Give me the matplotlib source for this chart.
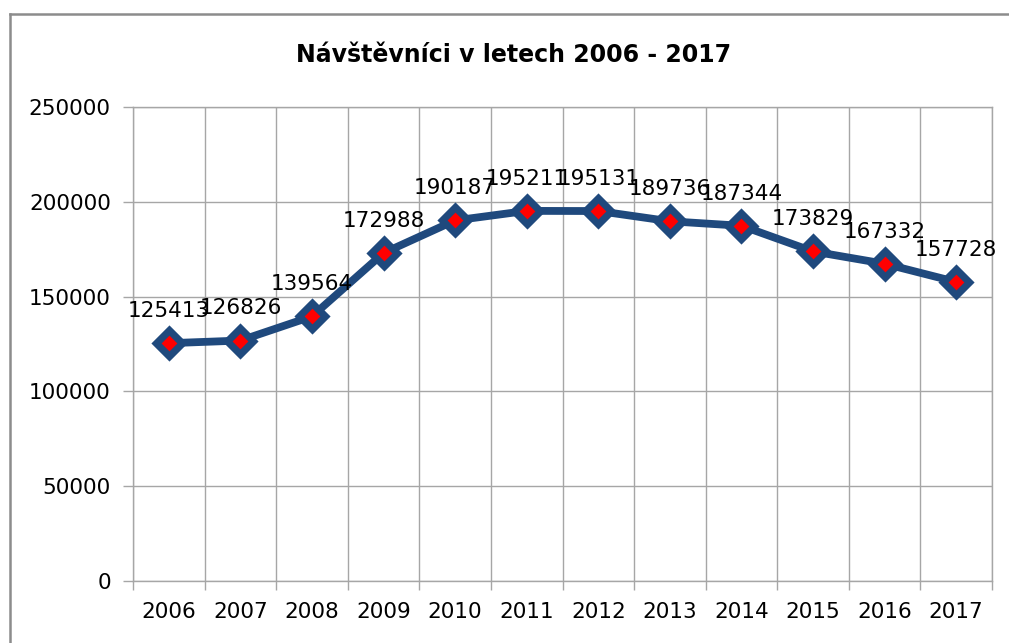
import matplotlib
matplotlib.use("Agg")
import matplotlib.pyplot as plt
from matplotlib.lines import Line2D

years = ["2006", "2007", "2008", "2009", "2010", "2011", "2012", "2013", "2014", "2015", "2016", "2017"]
visitors = [125413, 126826, 139564, 172988, 190187, 195211, 195131, 189736, 187344, 173829, 167332, 157728]
yticks = [0, 50000, 100000, 150000, 200000, 250000]
title = "Návštěvníci v letech 2006 - 2017"

W, H = 1009, 643
fig = plt.figure(figsize=(W / 100, H / 100), dpi=100)
fig.patch.set_facecolor("white")

# outer chart frame
fig.add_artist(Line2D([10 / W, 10 / W], [0, 1 - 14 / H], transform=fig.transFigure, color="#8c8c8c", lw=1.8))
fig.add_artist(Line2D([10 / W, 1], [1 - 14 / H, 1 - 14 / H], transform=fig.transFigure, color="#8c8c8c", lw=1.8))

ax = fig.add_axes([133 / W, 1 - 581 / H, (992 - 133) / W, (581 - 107) / H])
x = list(range(len(years)))
grid_c = "#a6a6a6"

ax.plot(x, visitors, color="#1F497D", lw=5.6, marker="D", markersize=13.5,
        markerfacecolor="#FF0000", markeredgecolor="#1F497D", markeredgewidth=5.2, zorder=3,
        solid_joinstyle="round")

for xi, v in zip(x, visitors):
    ax.annotate(str(v), (xi, v), xytext=(0, 16), textcoords="offset points",
                ha="center", va="bottom", fontsize=15.5, color="black", zorder=4)

ax.set_xlim(-0.5, len(years) - 0.5)
ax.set_ylim(0, 250000)
ax.set_yticks(yticks)
ax.set_yticklabels([str(t) for t in yticks])
ax.set_xticks(x)
ax.set_xticklabels(years)
ax.set_xticks([i - 0.5 for i in range(len(years) + 1)], minor=True)

ax.tick_params(axis="y", which="major", length=7, width=1, color=grid_c, pad=9, labelsize=15.5)
ax.tick_params(axis="x", which="major", length=0, pad=15, labelsize=15.5)
ax.tick_params(axis="x", which="minor", length=6.5, width=1, color=grid_c)

ax.grid(True, axis="y", which="major", color=grid_c, lw=1)
ax.grid(True, axis="x", which="minor", color=grid_c, lw=1)
ax.grid(False, axis="x", which="major")
for s in ax.spines.values():
    s.set_color(grid_c)
    s.set_linewidth(1)
ax.set_axisbelow(True)

fig.text(514 / W, 1 - 55 / H, title, ha="center", va="center", fontsize=17, fontweight="bold")

fig.savefig("out.png", dpi=100)
